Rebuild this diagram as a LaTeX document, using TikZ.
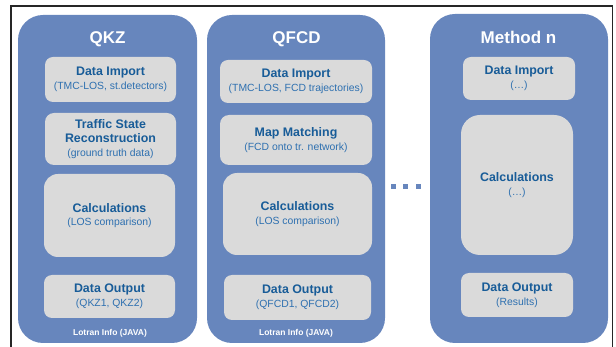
\documentclass[tikz,border=0pt]{standalone}
\usepackage{fontspec}
\setmainfont{Liberation Sans}
\definecolor{colblue}{RGB}{103,134,189}
\definecolor{cardgrey}{RGB}{218,218,218}
\definecolor{headblue}{RGB}{24,92,152}
\definecolor{subblue}{RGB}{46,112,176}
\newcommand\hd[1]{{\fontsize{12.4}{14}\selectfont\bfseries #1}}
\newcommand\sbt[1]{{\fontsize{10.4}{12}\selectfont\color{subblue}#1}}
% column / card from corner coordinates: name, x1, y1, x2, y2, radius, text
\newcommand\panel[6]{\node[column, rounded corners=#6pt,
  minimum width={(#4-#2)*1pt}, minimum height={(#5-#3)*1pt}]
  (#1) at ({(#2+#4)/2},{(#3+#5)/2}) {};}
\newcommand\card[7]{\node[card, rounded corners=#6pt,
  minimum width={(#4-#2)*1pt}, minimum height={(#5-#3)*1pt}]
  (#1) at ({(#2+#4)/2},{(#3+#5)/2}) {#7};}
\begin{document}
\begin{tikzpicture}[x=1pt,y=-1pt,
  column/.style={fill=colblue, draw=none, inner sep=0pt},
  card/.style={fill=cardgrey, draw=none, inner sep=0pt, align=center,
    text=headblue, font=\fontsize{10.4}{13.7}\selectfont},
  title/.style={text=white, font=\fontsize{17}{19}\selectfont\bfseries, inner sep=0pt},
  footer/.style={text=white, font=\fontsize{8.5}{10}\selectfont\bfseries, inner sep=0pt},
  dot/.style={fill=colblue, draw=none, minimum size=5pt, inner sep=0pt}]
\useasboundingbox (0,0) rectangle (616,347);
% outer frame (open at the bottom)
\draw[line width=1.5pt, black!85] (11,347) -- (11,6) -- (612.5,6) -- (612.5,347);

% the three method columns
\panel{qkz}{18}{15}{197}{343}{25}
\panel{qfcd}{207}{15}{385}{343}{25}
\panel{mn}{430}{14}{608}{343}{25}

% QKZ
\node[title] (tqkz) at (107.5,39) {QKZ};
\card{di1}{45}{57}{176}{102}{8}{\hd{Data Import}\\\sbt{(TMC-LOS, st.detectors)}}
\card{ts1}{45}{113}{176}{165}{9}{\hd{Traffic State}\\[1pt]\hd{Reconstruction}\\\sbt{(ground truth data)}}
\card{ca1}{44}{174}{175}{257}{14}{\hd{Calculations}\\\sbt{(LOS comparison)}}
\card{do1}{44}{275}{175}{318}{8}{\hd{Data Output}\\\sbt{(QKZ1, QKZ2)}}
\node[footer] (lj1) at (110,333) {Lotran Info (JAVA)};

% QFCD
\node[title] (tqfcd) at (296.5,39) {QFCD};
\card{di2}{220}{60}{372}{103}{8}{\hd{Data Import}\\\sbt{(TMC-LOS, FCD trajectories)}}
\card{mm2}{220}{115}{372}{165}{9}{\hd{Map Matching}\\\sbt{(FCD onto tr. network)}}
\card{ca2}{223}{173}{372}{255}{14}{\hd{Calculations}\\\sbt{(LOS comparison)}}
\card{do2}{224}{275}{371}{320}{8}{\hd{Data Output}\\\sbt{(QFCD1, QFCD2)}}
\node[footer] (lj2) at (296,333) {Lotran Info (JAVA)};

% Method n
\node[title] (tmn) at (518.5,37) {Method n};
\card{di3}{463}{57}{575}{100}{8}{\hd{Data Import}\\\sbt{(\dots)}}
\card{ca3}{461}{115}{573}{255}{19}{\hd{Calculations}\\\sbt{(\dots)}}
\card{do3}{461}{273}{573}{317}{8}{\hd{Data Output}\\\sbt{(Results)}}

% ellipsis between the columns
\node[dot] (d1) at (393.5,186.5) {};
\node[dot] (d2) at (405.5,186.5) {};
\node[dot] (d3) at (418.5,186.5) {};
\end{tikzpicture}
\end{document}
